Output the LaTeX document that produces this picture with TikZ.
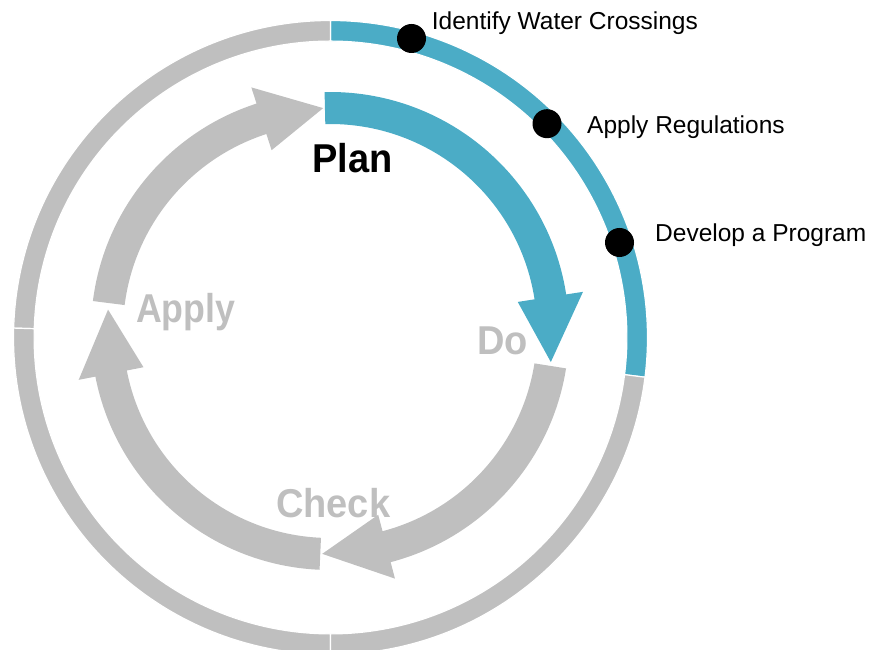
\documentclass[tikz,border=0pt]{standalone}
\usepackage{fontspec}
\setmainfont{Liberation Sans}
\definecolor{pblue}{RGB}{75,172,198}
\definecolor{pgray}{RGB}{191,191,191}
\newcommand\ringpart[3]{%
  \filldraw[fill=#1, ringsep] (#2:296.4) arc[start angle=#2, end angle=#3, radius=296.4]
    -- (#3:317) arc[start angle=#3, end angle=#2, radius=317] -- cycle;}
\newcommand\cyclearrow[4]{%
  \fill[#1] (#2:207) arc[start angle=#2, end angle=#3, radius=207]
    -- (#3:190) -- (#4:223) -- (#3:256) -- (#3:239)
    arc[start angle=#3, end angle=#2, radius=239] -- cycle;}
\begin{document}
\begin{tikzpicture}[x=1pt,y=1pt,
  ringsep/.style={draw=white, line width=1.2pt},
  dotmark/.style={circle, fill=black, minimum size=29pt, inner sep=0pt},
  steplabel/.style={anchor=base west, inner sep=0pt, font=\fontsize{24.5}{29}\selectfont},
  phaselabel/.style={anchor=base west, inner sep=0pt, font=\fontsize{38}{44}\selectfont\bfseries}]
\useasboundingbox (0,0) rectangle (881,650);
% outer ring
\begin{scope}[shift={(330.5,312.5)}]
  \ringpart{pblue}{-7.2}{90}
  \ringpart{pgray}{90}{178.3}
  \ringpart{pgray}{178.3}{270}
  \ringpart{pgray}{270}{352.8}
\end{scope}
% inner cycle arrows
\begin{scope}[shift={(330,319)}]
  \cyclearrow{pblue}{91.3}{8.8}{-8}
  \cyclearrow{pgray}{-9}{-75.3}{-92}
  \cyclearrow{pgray}{267.5}{191}{174.5}
  \cyclearrow{pgray}{172.8}{107.9}{91.75}
\end{scope}
% dots
\node[dotmark] (d1) at (411.5,611.5) {};
\node[dotmark] (d2) at (547,526.3) {};
\node[dotmark] (d3) at (619.5,407.5) {};
% step labels
\node[steplabel] (t1) at (431.7,620) {Identify Water Crossings};
\node[steplabel] (t2) at (587,516) {Apply Regulations};
\node[steplabel] (t3) at (655,408) {Develop a Program};
% phase labels
\node[phaselabel, text=black] (plan) at (312,477) {\scalebox{1}[1.06]{Plan}};
\node[phaselabel, text=pgray] (do) at (477,295) {\scalebox{1}[1.06]{Do}};
\node[phaselabel, text=pgray] (check) at (276,132) {\scalebox{1}[1.06]{Check}};
\node[phaselabel, text=pgray] (apply) at (136,327) {\scalebox{0.94}[1.06]{Apply}};
\end{tikzpicture}
\end{document}
